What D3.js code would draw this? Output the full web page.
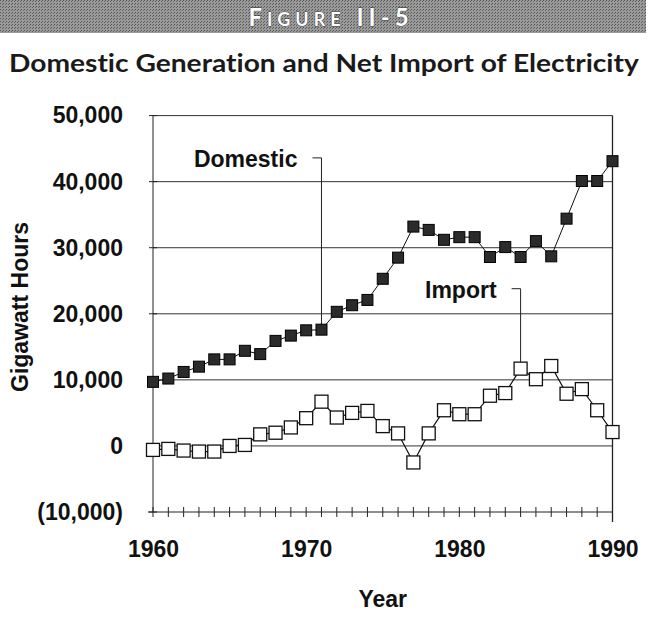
<!DOCTYPE html>
<html>
<head>
<meta charset="utf-8">
<script src="https://cdn.jsdelivr.net/npm/d3@7"></script>
<style>
  body { margin: 0; background: #fff; }
  svg { display: block; }
  text { font-variant-ligatures: none; }
</style>
</head>
<body>
<svg id="chart" width="668" height="623"></svg>
<script>
// data (gigawatt hours per year)
var years = [1960, 1961, 1962, 1963, 1964, 1965, 1966, 1967, 1968, 1969,
  1970, 1971, 1972, 1973, 1974, 1975, 1976, 1977, 1978, 1979,
  1980, 1981, 1982, 1983, 1984, 1985, 1986, 1987, 1988, 1989, 1990];

var domestic = [9700, 10200, 11200, 12000, 13100, 13100, 14400, 13900, 15900, 16700,
  17500, 17600, 20300, 21300, 22100, 25300, 28500, 33200, 32700, 31200,
  31600, 31600, 28600, 30100, 28600, 31000, 28700, 34400, 40100, 40100, 43100];

var imports = [-600, -450, -700, -850, -850, 0, 150, 1750, 2000, 2800,
  4200, 6700, 4300, 5000, 5300, 3000, 1900, -2500, 1900, 5400,
  4800, 4800, 7600, 8000, 11700, 10100, 12100, 7900, 8600, 5400, 2100];

var yTicks = [-10000, 0, 10000, 20000, 30000, 40000, 50000];
var yearLabels = [1960, 1970, 1980, 1990];

// callouts: label, year the leader drops to, value where the leader bends
var callouts = [
  {label: 'Domestic', year: 1971, bend: 43600, series: 'domestic'},
  {label: 'Import', year: 1984, bend: 23800, series: 'imports'}
];

var svg = d3.select('#chart');
var bold = "'Liberation Sans', Arial, sans-serif";

var x = d3.scaleLinear().domain([1960, 1990]).range([153, 612.5]);
var y = d3.scaleLinear().domain([-10000, 50000]).range([512, 115.6]);

// ---- header band (halftone-ish grey) ----
var pat = svg.append('defs').append('pattern')
  .attr('id', 'dots').attr('width', 3).attr('height', 3)
  .attr('patternUnits', 'userSpaceOnUse');
pat.append('rect').attr('width', 3).attr('height', 3).style('fill', '#9a9a9a');
pat.append('rect').attr('width', 1).attr('height', 1).style('fill', '#555');
pat.append('rect').attr('x', 2).attr('y', 1).attr('width', 1).attr('height', 1).style('fill', '#666');

svg.append('rect')
  .attr('x', 0).attr('y', 0)
  .attr('width', 646).attr('height', 33)
  .style('fill', 'url(#dots)');

var fig = svg.append('text')
  .attr('x', 331).attr('y', 26)
  .attr('text-anchor', 'middle')
  .style('font-family', "Lato, 'Open Sans', sans-serif")
  .style('font-weight', 700)
  .style('letter-spacing', '5px')
  .style('fill', '#fff')
  .style('stroke', '#333')
  .style('stroke-width', 0.8)
  .style('paint-order', 'stroke');
fig.append('tspan').style('font-size', '24px').text('F');
fig.append('tspan').style('font-size', '18px').text('IGURE');
fig.append('tspan').style('font-size', '24px').text(' II-5');

// ---- title ----
var title = svg.append('text')
  .attr('x', 0).attr('y', 0)
  .style('font-family', "Lato, 'Open Sans', sans-serif")
  .style('font-weight', 700)
  .style('font-size', '24px')
  .style('fill', '#1a1a1a')
  .text('Domestic Generation and Net Import of Electricity');
var tw = title.node().getComputedTextLength();
title.attr('transform', 'translate(9,72) scale(' + (630 / tw) + ',1)');

// ---- gridlines + frame ----
svg.append('g').selectAll('line')
  .data(yTicks.filter(function(d) { return d >= 0; }))
  .enter().append('line')
  .attr('x1', x(1960)).attr('x2', x(1990))
  .attr('y1', function(d) { return y(d); })
  .attr('y2', function(d) { return y(d); })
  .style('stroke', '#333').style('stroke-width', 1);

// right edge
svg.append('line')
  .attr('x1', x(1990)).attr('x2', x(1990))
  .attr('y1', y(50000)).attr('y2', y(-10000) + 10)
  .style('stroke', '#222').style('stroke-width', 1.3);

// y axis
var yAxis = d3.axisLeft(y)
  .tickValues(yTicks)
  .tickSize(0)
  .tickPadding(30)
  .tickFormat(function(d) {
    var s = d3.format(',')(Math.abs(d));
    return d < 0 ? '(' + s + ')' : s;
  });
var ya = svg.append('g')
  .attr('transform', 'translate(' + x(1960) + ',0)')
  .call(yAxis);
ya.select('.domain').remove();
ya.selectAll('text')
  .style('font-family', bold).style('font-weight', 'bold')
  .style('font-size', '23px').style('fill', '#111');

svg.append('line')
  .attr('x1', x(1960)).attr('x2', x(1960))
  .attr('y1', y(50000)).attr('y2', y(-10000))
  .style('stroke', '#222').style('stroke-width', 1);
svg.append('g').selectAll('line')
  .data(yTicks)
  .enter().append('line')
  .attr('x1', x(1960) - 4).attr('x2', x(1960) + 4)
  .attr('y1', function(d) { return y(d); })
  .attr('y2', function(d) { return y(d); })
  .style('stroke', '#222');

// x axis
var xAxis = d3.axisBottom(x)
  .tickValues(yearLabels)
  .tickSize(0)
  .tickPadding(29)
  .tickFormat(d3.format('d'));
var xa = svg.append('g')
  .attr('transform', 'translate(0,' + y(-10000) + ')')
  .call(xAxis);
xa.select('.domain').remove();
xa.selectAll('text')
  .style('font-family', bold).style('font-weight', 'bold')
  .style('font-size', '23px').style('fill', '#111');

svg.append('line')
  .attr('x1', x(1960) - 5).attr('x2', x(1990))
  .attr('y1', y(-10000)).attr('y2', y(-10000))
  .style('stroke', '#222').style('stroke-width', 1);
svg.append('g').selectAll('line')
  .data(years)
  .enter().append('line')
  .attr('x1', function(d) { return x(d); })
  .attr('x2', function(d) { return x(d); })
  .attr('y1', y(-10000) - 5).attr('y2', y(-10000) + 5)
  .style('stroke', '#222');

// axis titles
svg.append('text')
  .attr('x', (x(1960) + x(1990)) / 2).attr('y', 607)
  .attr('text-anchor', 'middle')
  .style('font-family', bold).style('font-weight', 'bold')
  .style('font-size', '23px').style('fill', '#111')
  .text('Year');

svg.append('text')
  .attr('transform', 'translate(28,307) rotate(-90)')
  .attr('text-anchor', 'middle')
  .style('font-family', bold).style('font-weight', 'bold')
  .style('font-size', '23px').style('fill', '#111')
  .text('Gigawatt Hours');

// ---- series ----
var line = d3.line()
  .x(function(d, i) { return x(years[i]); })
  .y(function(d) { return y(d); });

svg.append('path').datum(domestic)
  .attr('d', line)
  .style('fill', 'none').style('stroke', '#111').style('stroke-width', 1);
svg.append('path').datum(imports)
  .attr('d', line)
  .style('fill', 'none').style('stroke', '#111').style('stroke-width', 1.2);

// callout leaders (drawn under markers)
var series = {domestic: domestic, imports: imports};
callouts.forEach(function(c) {
  var i = years.indexOf(c.year);
  var cx = x(c.year);
  var by = y(c.bend);
  var ty = y(series[c.series][i]);
  svg.append('polyline')
    .attr('points', [[cx - 9, by], [cx, by], [cx, ty]].join(' '))
    .style('fill', 'none').style('stroke', '#222').style('stroke-width', 1);
  svg.append('text')
    .attr('x', cx - 24).attr('y', by + 9)
    .attr('text-anchor', 'end')
    .style('font-family', bold).style('font-weight', 'bold')
    .style('font-size', '23px').style('fill', '#111')
    .text(c.label);
});

svg.append('g').selectAll('rect')
  .data(domestic)
  .enter().append('rect')
  .attr('x', function(d, i) { return x(years[i]) - 5.5; })
  .attr('y', function(d) { return y(d) - 5.5; })
  .attr('width', 11).attr('height', 11)
  .style('fill', '#2b2b2b').style('stroke', '#000').style('stroke-width', 1);

svg.append('g').selectAll('rect')
  .data(imports)
  .enter().append('rect')
  .attr('x', function(d, i) { return x(years[i]) - 6.5; })
  .attr('y', function(d) { return y(d) - 6.5; })
  .attr('width', 13).attr('height', 13)
  .style('fill', '#fff').style('stroke', '#111').style('stroke-width', 1.3);
</script>
</body>
</html>
